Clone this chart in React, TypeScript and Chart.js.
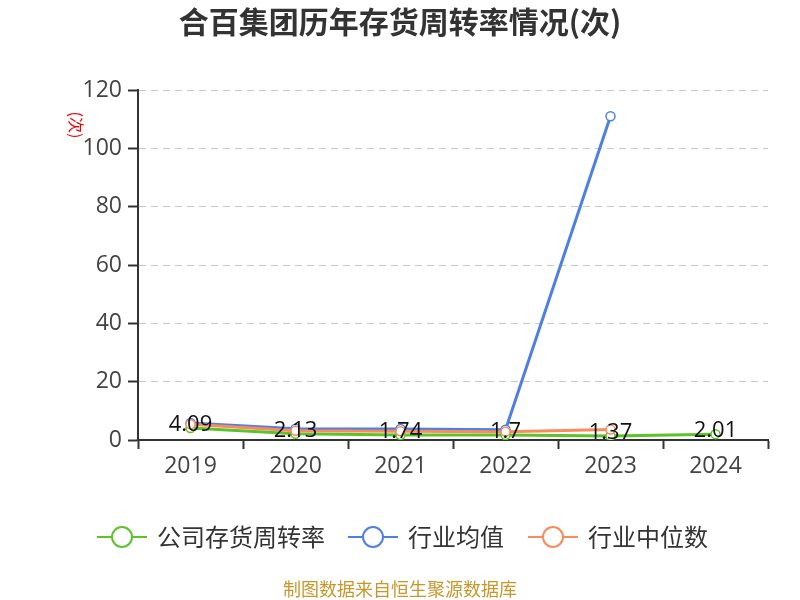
import React, { useEffect, useRef } from "react";
import { Chart, registerables } from "chart.js";

Chart.register(...registerables);

const categories = ["2019", "2020", "2021", "2022", "2023", "2024"];
const companyValues = [4.09, 2.13, 1.74, 1.7, 1.37, 2.01];
const industryMean = [5.8, 3.9, 3.8, 3.5, 111, null];
const industryMedian = [5.4, 3.2, 3.0, 2.8, 3.6, null];
const companyLabels = ["4.09", "2.13", "1.74", "1.7", "1.37", "2.01"];
const seriesNames = ["公司存货周转率", "行业均值", "行业中位数"];
const seriesColors = ["#5cc42a", "#4e80e4", "#fa8b5c"];

const FONT = '"Open Sans", "Noto Sans CJK SC", sans-serif';
const CJK = '"Noto Sans CJK SC", "Noto Sans", sans-serif';

const decorPlugin = {
  id: "decor",
  afterDatasetsDraw(chart: any) {
    const ctx = chart.ctx;
    const meta = chart.getDatasetMeta(0);
    ctx.save();
    ctx.fillStyle = "#111";
    ctx.font = `22px ${FONT}`;
    ctx.textAlign = "center";
    ctx.textBaseline = "middle";
    meta.data.forEach((pt: any, i: number) => {
      ctx.fillText(companyLabels[i], pt.x, pt.y - 3);
    });
    ctx.restore();
  },
  afterDraw(chart: any) {
    const ctx = chart.ctx;
    ctx.save();
    // title
    ctx.fillStyle = "#333";
    ctx.font = `bold 30px ${CJK}`;
    ctx.textAlign = "center";
    ctx.textBaseline = "middle";
    ctx.fillText("合百集团历年存货周转率情况(次)", 400, 22);
    // y unit
    ctx.save();
    ctx.translate(76, 125);
    ctx.rotate(Math.PI / 2);
    ctx.fillStyle = "#e00";
    ctx.font = `16px ${CJK}`;
    ctx.fillText("(次)", 0, 0);
    ctx.restore();
    // legend
    const items = [
      { x: 97, name: seriesNames[0], c: seriesColors[0] },
      { x: 348, name: seriesNames[1], c: seriesColors[1] },
      { x: 528, name: seriesNames[2], c: seriesColors[2] },
    ];
    const ly = 537;
    items.forEach((it) => {
      ctx.strokeStyle = it.c;
      ctx.lineWidth = 2;
      ctx.beginPath();
      ctx.moveTo(it.x, ly);
      ctx.lineTo(it.x + 50, ly);
      ctx.stroke();
      ctx.beginPath();
      ctx.arc(it.x + 25, ly, 10, 0, Math.PI * 2);
      ctx.fillStyle = "#fff";
      ctx.fill();
      ctx.stroke();
      ctx.fillStyle = "#333";
      ctx.font = `24px ${CJK}`;
      ctx.textAlign = "left";
      ctx.fillText(it.name, it.x + 60, ly);
    });
    // footer
    ctx.fillStyle = "#c9962a";
    ctx.font = `18px ${CJK}`;
    ctx.textAlign = "center";
    ctx.fillText("制图数据来自恒生聚源数据库", 400, 589);
    ctx.restore();
  },
};

export default function App() {
  const ref = useRef<HTMLCanvasElement>(null);
  useEffect(() => {
    document.body.style.margin = "0";
    const mk = (label: string, data: any[], color: string, order: number) => ({
      label,
      data,
      borderColor: color,
      backgroundColor: "#fff",
      borderWidth: 3,
      pointRadius: 4.5,
      pointBorderWidth: 1.5,
      pointBackgroundColor: "#fff",
      pointBorderColor: color,
      tension: 0,
      order,
    });
    const chart = new Chart(ref.current!, {
      type: "line",
      data: {
        labels: categories,
        datasets: [
          mk(seriesNames[0], companyValues, seriesColors[0], 2),
          mk(seriesNames[1], industryMean, seriesColors[1], 1),
          mk(seriesNames[2], industryMedian, seriesColors[2], 0),
        ],
      },
      options: {
        responsive: false,
        animation: false,
        layout: { padding: { top: 90, left: 0, right: 32, bottom: 120 } },
        plugins: { legend: { display: false }, title: { display: false }, tooltip: { enabled: false } },
        scales: {
          x: {
            offset: true,
            afterFit: (s: any) => { s.height = 40; },
            border: { color: "#333", width: 2 },
            grid: {
              drawOnChartArea: false,
              drawTicks: true,
              tickLength: 9,
              tickColor: "#333",
              tickWidth: 2,
              offset: true,
            },
            ticks: { color: "#444", font: { size: 23, family: FONT }, padding: 4 },
          },
          y: {
            min: 0,
            max: 120,
            afterFit: (s: any) => { s.width = 138; },
            border: { color: "#333", width: 2, dash: [7, 5] },
            grid: {
              color: "#c8c8c8",
              lineWidth: 1,
              drawTicks: true,
              tickLength: 10,
              tickColor: "#333",
              tickWidth: 2,
              tickBorderDash: [],
            },
            ticks: { stepSize: 20, color: "#444", font: { size: 23, family: FONT }, padding: 6 },
          },
        },
      },
      plugins: [decorPlugin],
    });
    return () => chart.destroy();
  }, []);
  return <canvas ref={ref} width={800} height={600} style={{ display: "block" }} />;
}
